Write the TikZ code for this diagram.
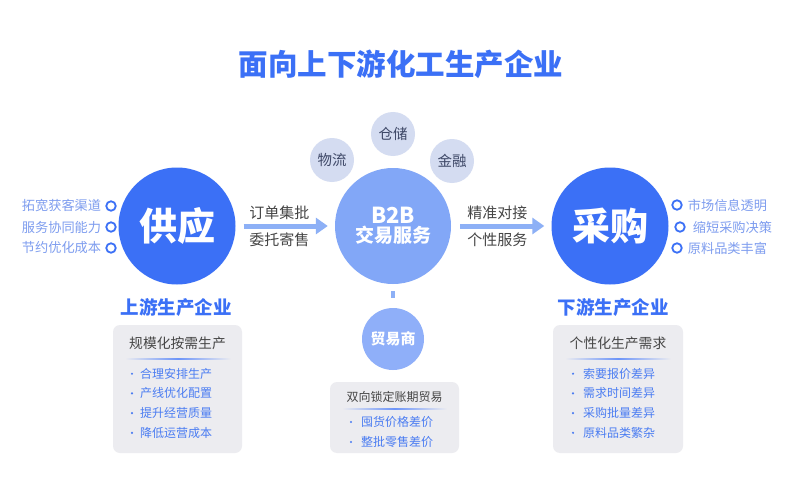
\documentclass[tikz,border=0pt]{standalone}
\usepackage{fontspec}
\setmainfont{Noto Sans CJK SC}
\usetikzlibrary{arrows.meta,positioning}
\definecolor{mainblue}{HTML}{3B70F6}
\definecolor{midblue}{HTML}{82A7F7}
\definecolor{paleblue}{HTML}{8FAFF9}
\definecolor{lilac}{HTML}{D4DCF1}
\definecolor{flowblue}{HTML}{8DB0F6}
\definecolor{sideblue}{HTML}{7E9DEF}
\definecolor{panelgray}{HTML}{ECECF0}
\definecolor{itemblue}{HTML}{4A7CF2}
\definecolor{darktext}{HTML}{454545}
\definecolor{dimtext}{HTML}{3E4867}

\begin{document}
\begin{tikzpicture}[x=1pt,y=-1pt]
  \tikzset{
    bigc/.style={circle,fill=mainblue,text=white,minimum size=117pt,inner sep=0pt,
      font=\bfseries\fontsize{38}{40}\selectfont},
    midc/.style={circle,fill=midblue,text=white,minimum size=116pt,inner sep=0pt,align=center},
    smallc/.style={circle,fill=lilac,text=dimtext,minimum size=44pt,inner sep=0pt,
      font=\fontsize{14.5}{16}\selectfont},
    tradec/.style={circle,fill=paleblue,text=white,minimum size=62pt,inner sep=0pt,
      font=\bfseries\fontsize{15}{16}\selectfont},
    ring/.style={circle,draw=mainblue,line width=1.8pt,minimum size=9.5pt,inner sep=0pt},
    sidetxt/.style={text=sideblue,inner sep=0pt,font=\fontsize{13.2}{14}\selectfont},
    flowtxt/.style={text=darktext,inner sep=1pt,font=\fontsize{15}{16}\selectfont},
    flow/.style={flowblue,line width=5pt,-{Triangle[length=12pt,width=16pt]}},
    group/.style={text=mainblue,font=\bfseries\fontsize{18.5}{20}\selectfont},
    panel/.style={fill=panelgray,rounded corners=7pt,inner sep=0pt},
    paneltitle/.style={text=darktext,font=\fontsize{13.8}{15}\selectfont},
    itemtxt/.style={text=itemblue,anchor=west,inner sep=0pt,font=\fontsize{12}{13}\selectfont},
    dot/.style={circle,fill=itemblue,minimum size=2.4pt,inner sep=0pt}
  }
  \useasboundingbox[fill=white] (0,0) rectangle (788,495);

  \node[text=mainblue,font=\bfseries\fontsize{29.5}{32}\selectfont] (title) at (401,64) {面向上下游化工生产企业};

  \node[bigc] (supply) at (177,226) {供应};
  \node[midc] (b2b) at (393,226) {\bfseries\fontsize{22}{22}\selectfont B2B\\[1pt]\bfseries\fontsize{19}{22}\selectfont 交易服务};
  \node[bigc] (purchase) at (610,226) {采购};

  \node[smallc] (logistics) at (332,160) {物流};
  \node[smallc] (storage) at (393,134) {仓储};
  \node[smallc] (finance) at (452,161) {金融};

  \draw[flow,shorten <=8pt,shorten >=7pt] (supply) -- node[flowtxt,above=3pt,pos=0.44] {订单集批} node[flowtxt,below=3pt,pos=0.44] {委托寄售} (b2b);
  \draw[flow,shorten <=9pt,shorten >=7pt] (b2b) -- node[flowtxt,above=3pt,pos=0.46] {精准对接} node[flowtxt,below=3pt,pos=0.46] {个性服务} (purchase);

  \node[ring] (l1) at (111,206) {};
  \node[ring] (l2) at (111,227) {};
  \node[ring] (l3) at (111,248) {};
  \node[sidetxt,left=4pt of l1] (l1t) {拓宽获客渠道};
  \node[sidetxt,left=4pt of l2] (l2t) {服务协同能力};
  \node[sidetxt,left=4pt of l3] (l3t) {节约优化成本};

  \node[ring] (r1) at (677,205) {};
  \node[ring] (r2) at (680,227) {};
  \node[ring] (r3) at (677,248) {};
  \node[sidetxt,right=5pt of r1] (r1t) {市场信息透明};
  \node[sidetxt,right=7pt of r2] (r2t) {缩短采购决策};
  \node[sidetxt,right=5pt of r3] (r3t) {原料品类丰富};

  \node[group] (upstream) at (176,307) {上游生产企业};
  \node[group] (downstream) at (613,307) {下游生产企业};

  \node[tradec] (trader) at (393,339) {贸易商};
  \draw[flowblue,line width=4pt,shorten <=7pt,shorten >=10pt] (b2b) -- (trader);

  \node[panel,minimum width=129pt,minimum height=128pt] (lbox) at (177.5,389) {};
  \node[panel,minimum width=130pt,minimum height=128pt] (rbox) at (618,389) {};
  \node[panel,minimum width=129pt,minimum height=71pt] (mbox) at (394.5,417.5) {};

  \node[paneltitle] (ltitle) at (177.5,343) {规模化按需生产};
  \node[paneltitle] (rtitle) at (618,343) {个性化生产需求};
  \node[paneltitle,font=\fontsize{12}{13}\selectfont] (mtitle) at (394.5,397) {双向锁定账期贸易};

  \shade[left color=panelgray,right color=panelgray,middle color=mainblue!75] (125,358.4) rectangle (231,359.8);
  \shade[left color=panelgray,right color=panelgray,middle color=mainblue!75] (565,358.4) rectangle (671,359.8);
  \shade[left color=panelgray,right color=panelgray,middle color=mainblue!75] (342,408.4) rectangle (447,409.8);

  \foreach \t [count=\i] in {合理安排生产,产线优化配置,提升经营质量,降低运营成本} {
    \node[dot] (ld\i) at (132,{354+19.7*\i}) {};
    \node[itemtxt] (li\i) at (140,{354+19.7*\i}) {\t};
  }
  \foreach \t [count=\i] in {索要报价差异,需求时间差异,采购批量差异,原料品类繁杂} {
    \node[dot] (rd\i) at (573,{354+19.7*\i}) {};
    \node[itemtxt] (ri\i) at (583,{354+19.7*\i}) {\t};
  }
  \foreach \t [count=\i] in {囤货价格差价,整批零售差价} {
    \node[dot] (md\i) at (351,{402+20*\i}) {};
    \node[itemtxt] (mi\i) at (361,{402+20*\i}) {\t};
  }
\end{tikzpicture}
\end{document}
